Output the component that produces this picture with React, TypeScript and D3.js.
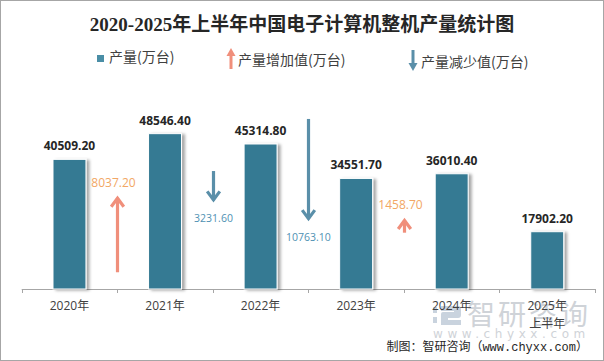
import React, { useEffect, useRef } from "react";
import * as d3 from "d3";

// 产量 (万台)
const years = ["2020年", "2021年", "2022年", "2023年", "2024年", "2025年"];
const yearSub = ["", "", "", "", "", "上半年"];
const output = [40509.2, 48546.4, 45314.8, 34551.7, 36010.4, 17902.2];

// 增减值 (万台), drawn at the boundary before each year
const changeYears = ["2021年", "2022年", "2023年", "2024年"];
const changeValues = [8037.2, -3231.6, -10763.1, 1458.7];
// where each arrow begins, in secondary-axis units
const arrowStart = [1780, 12550, 18090, 5990];

const legendItems = ["产量(万台)", "产量增加值(万台)", "产量减少值(万台)"];

const W = 604;
const H = 361;
const BAR = "#367a93";
const UP = "#f08f7b";
const UP_TXT = "#f2a765";
const DOWN = "#5a8fa9";
const DOWN_TXT = "#4f91b3";
const CJK = "'Noto Sans CJK SC', sans-serif";
const NUM = "'Open Sans', 'Noto Sans CJK SC', sans-serif";

function Chart() {
    const ref = useRef<SVGSVGElement>(null);

    useEffect(() => {
        const svg = d3.select(ref.current);
        svg.selectAll("*").remove();

        const x = d3.scaleBand().domain(years).range([21.7, 595]).padding(0);
        const y = d3.scaleLinear().domain([0, 60000]).range([289, 97]);
        const y2 = d3.scaleLinear().domain([0, 20000]).range([289, 101]);
        const barW = x.bandwidth() * 0.345;

        const defs = svg.append("defs");
        const f = defs.append("filter").attr("id", "shadow")
            .attr("x", "-20%").attr("y", "-10%").attr("width", "150%").attr("height", "120%");
        f.append("feDropShadow")
            .attr("dx", 3).attr("dy", 1).attr("stdDeviation", 1.6)
            .attr("flood-color", "#000").attr("flood-opacity", 0.35);

        // frame
        svg.append("rect")
            .attr("x", 0.5).attr("y", 0.5)
            .attr("width", W - 1).attr("height", H - 1)
            .attr("fill", "#fff").attr("stroke", "#a6a6a6");

        // title
        svg.append("text")
            .attr("x", 302).attr("y", 31)
            .attr("text-anchor", "middle")
            .style("font-family", "'Liberation Serif', 'Noto Sans CJK SC', serif")
            .style("font-weight", "bold")
            .style("font-size", "19px")
            .attr("fill", "#262626")
            .text("2020-2025年上半年中国电子计算机整机产量统计图");

        // legend
        const lg = svg.append("g").style("font-family", CJK).style("font-size", "14px").attr("fill", "#404040");
        lg.append("rect").attr("x", 97).attr("y", 55).attr("width", 7).attr("height", 7).attr("fill", "#4a8ea6");
        lg.append("text").attr("x", 109).attr("y", 62).text(legendItems[0]);
        lg.append("line").attr("x1", 231).attr("x2", 231).attr("y1", 55).attr("y2", 69)
            .attr("stroke", UP).attr("stroke-width", 3);
        lg.append("path").attr("d", "M226.5,56 L231,48 L235.5,56 Z").attr("fill", UP);
        lg.append("text").attr("x", 238).attr("y", 65).text(legendItems[1]);
        lg.append("line").attr("x1", 413).attr("x2", 413).attr("y1", 50).attr("y2", 64)
            .attr("stroke", DOWN).attr("stroke-width", 3);
        lg.append("path").attr("d", "M408.5,63 L413,71 L417.5,63 Z").attr("fill", DOWN);
        lg.append("text").attr("x", 421).attr("y", 67).text(legendItems[2]);

        // watermark
        const wm = svg.append("g").attr("fill", "#cfd3d8");
        wm.append("rect").attr("x", 433).attr("y", 307).attr("width", 4).attr("height", 6).attr("fill", "#c9d3de");
        wm.append("rect").attr("x", 433).attr("y", 317).attr("width", 4).attr("height", 6).attr("fill", "#c9d3de");
        wm.append("path")
            .attr("d", "M441,306 H458 Q461,306 461,309 V315 Q461,318 458,318 H448 V320 H461 V325 H441 V314 Q441,312 443,312 H454 V311 H441 Z")
            .attr("fill", "#c9d3de");
        wm.append("text").attr("x", 467).attr("y", 325)
            .style("font-family", CJK).style("font-size", "28px").attr("letter-spacing", "3px")
            .text("智研咨询");
        wm.append("text").attr("x", 433).attr("y", 338)
            .style("font-family", "'DejaVu Sans', sans-serif").style("font-size", "12px")
            .attr("letter-spacing", "4.6px")
            .text("www.chyxx.com");

        // axis
        const axis = svg.append("g").attr("stroke", "#a6a6a6").attr("stroke-width", 1);
        axis.append("line").attr("x1", x.range()[0]).attr("x2", x.range()[1])
            .attr("y1", y(0) + 0.5).attr("y2", y(0) + 0.5);
        const ticks = years.map(d => x(d) as number).concat([x.range()[1]]);
        axis.selectAll(".tick").data(ticks).join("line")
            .attr("x1", d => Math.round(d) + 0.5).attr("x2", d => Math.round(d) + 0.5)
            .attr("y1", y(0)).attr("y2", y(0) + 4);

        const xl = svg.append("g").style("font-family", NUM).style("font-size", "12px").attr("fill", "#404040")
            .attr("text-anchor", "middle");
        xl.selectAll(".yr").data(years).join("text")
            .attr("x", d => (x(d) as number) + x.bandwidth() / 2)
            .attr("y", 310)
            .text(d => d);
        xl.selectAll(".sub").data(yearSub).join("text")
            .attr("x", (d, i) => (x(years[i]) as number) + x.bandwidth() / 2)
            .attr("y", 328)
            .style("font-family", CJK)
            .text(d => d);

        // bars
        svg.append("g").selectAll("rect").data(output).join("rect")
            .attr("x", (d, i) => (x(years[i]) as number) + (x.bandwidth() - barW) / 2)
            .attr("y", d => y(d))
            .attr("width", barW)
            .attr("height", d => y(0) - y(d))
            .attr("fill", BAR)
            .attr("stroke", "#fff")
            .attr("stroke-width", 1)
            .attr("filter", "url(#shadow)");

        svg.append("g").selectAll("text").data(output).join("text")
            .attr("x", (d, i) => (x(years[i]) as number) + x.bandwidth() / 2)
            .attr("y", d => y(d) - 9)
            .attr("text-anchor", "middle")
            .style("font-family", NUM)
            .style("font-weight", "bold")
            .style("font-size", "12px")
            .attr("fill", "#262626")
            .text(d => d.toFixed(2));

        // change arrows
        const ag = svg.append("g");
        changeValues.forEach((v, i) => {
            const ax = Math.round(x(changeYears[i]) as number) + 0.5;
            const y0 = y2(arrowStart[i]);
            const y1 = y2(arrowStart[i] + v);
            const up = v > 0;
            const col = up ? UP : DOWN;
            const dir = up ? 1 : -1;
            ag.append("line").attr("x1", ax).attr("x2", ax).attr("y1", y0).attr("y2", y1 + dir * 1)
                .attr("stroke", col).attr("stroke-width", 3.2);
            ag.append("polyline")
                .attr("points", `${ax - 6.3},${y1 + dir * 10} ${ax},${y1 + dir * 1.5} ${ax + 6.3},${y1 + dir * 10}`)
                .attr("fill", "none").attr("stroke", col).attr("stroke-width", 3.2);
            ag.append("text")
                .attr("x", up ? ax - 4 : ax)
                .attr("y", up ? y1 - 10 : y1 + 21)
                .attr("text-anchor", "middle")
                .style("font-family", NUM)
                .style("font-size", up ? "12px" : "10.5px")
                .attr("fill", up ? UP_TXT : DOWN_TXT)
                .text(Math.abs(v).toFixed(2));
        });

        // source
        svg.append("text")
            .attr("x", 588).attr("y", 351)
            .attr("text-anchor", "end")
            .style("font-family", "'Liberation Mono', 'Noto Sans CJK SC', monospace")
            .style("font-size", "12px")
            .attr("fill", "#262626")
            .text("制图：智研咨询（www.chyxx.com）");
    }, []);

    return <svg ref={ref} width={W} height={H} style={{ display: "block" }} />;
}

export default function App() {
    return (
        <div style={{ position: "absolute", left: 0, top: 0 }}>
            <Chart />
        </div>
    );
}
